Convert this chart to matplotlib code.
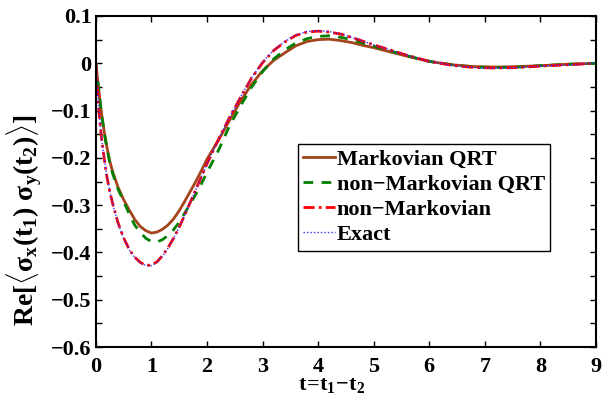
import matplotlib
matplotlib.use("Agg")
import matplotlib.pyplot as plt
from matplotlib.ticker import MultipleLocator

t = [0, 0.05, 0.1, 0.15, 0.2, 0.25, 0.3, 0.4, 0.5, 0.6, 0.7, 0.8, 0.9, 1.0,
     1.1, 1.2, 1.3, 1.4, 1.5, 1.6, 1.7, 1.8, 1.9, 2.0, 2.2, 2.4, 2.6, 2.8, 3.0,
     3.2, 3.4, 3.6, 3.8, 4.0, 4.2, 4.4, 4.6, 4.8, 5.0, 5.3, 5.6, 6.0, 6.4, 6.8,
     7.2, 7.6, 8.0, 8.5, 9.0]

markov_qrt = [0, -0.052, -0.103, -0.143, -0.177, -0.206, -0.228, -0.262, -0.288, -0.310,
              -0.330, -0.345, -0.354, -0.359, -0.357, -0.351, -0.342, -0.329, -0.312,
              -0.292, -0.271, -0.250, -0.227, -0.203, -0.164, -0.122, -0.081, -0.045,
              -0.016, 0.006, 0.022, 0.037, 0.046, 0.050, 0.051, 0.048, 0.044, 0.038,
              0.033, 0.024, 0.015, 0.004, -0.003, -0.007, -0.008, -0.007, -0.005,
              -0.002, 0.0]

nonmarkov_qrt = [0, -0.052, -0.104, -0.145, -0.180, -0.209, -0.232, -0.266, -0.292, -0.318,
                 -0.342, -0.358, -0.370, -0.377, -0.378, -0.373, -0.364, -0.352, -0.336,
                 -0.317, -0.297, -0.277, -0.255, -0.231, -0.186, -0.134, -0.091, -0.051,
                 -0.018, 0.009, 0.028, 0.043, 0.052, 0.057, 0.058, 0.055, 0.050, 0.043,
                 0.036, 0.026, 0.016, 0.004, -0.003, -0.008, -0.009, -0.008, -0.005,
                 -0.002, 0.0]

nonmarkov = [0, -0.092, -0.155, -0.200, -0.240, -0.270, -0.295, -0.337, -0.369, -0.393,
             -0.410, -0.421, -0.427, -0.427, -0.420, -0.407, -0.390, -0.370, -0.347,
             -0.321, -0.294, -0.267, -0.240, -0.213, -0.163, -0.116, -0.073, -0.032,
             0.001, 0.027, 0.045, 0.059, 0.066, 0.068, 0.066, 0.062, 0.055, 0.047,
             0.039, 0.028, 0.017, 0.004, -0.004, -0.009, -0.010, -0.009, -0.006,
             -0.003, 0.0]

exact = [0, -0.090, -0.154, -0.199, -0.239, -0.270, -0.295, -0.338, -0.370, -0.394,
         -0.411, -0.422, -0.428, -0.428, -0.421, -0.408, -0.391, -0.370, -0.347,
         -0.321, -0.294, -0.267, -0.240, -0.213, -0.163, -0.115, -0.072, -0.031,
         0.002, 0.028, 0.046, 0.060, 0.067, 0.069, 0.067, 0.062, 0.055, 0.047,
         0.039, 0.028, 0.017, 0.004, -0.004, -0.009, -0.010, -0.009, -0.006,
         -0.003, 0.0]

xticks = [0, 1, 2, 3, 4, 5, 6, 7, 8, 9]
yticks = [-0.6, -0.5, -0.4, -0.3, -0.2, -0.1, 0, 0.1]
ytick_labels = ["\u22120.6", "\u22120.5", "\u22120.4", "\u22120.3", "\u22120.2", "\u22120.1", "0", "0.1"]

plt.rcParams['font.family'] = ['Liberation Serif', 'DejaVu Serif']
plt.rcParams['font.weight'] = 'bold'
plt.rcParams['mathtext.fontset'] = 'custom'
plt.rcParams['mathtext.rm'] = 'Liberation Serif:bold'
plt.rcParams['mathtext.it'] = 'Liberation Serif:bold'
plt.rcParams['mathtext.bf'] = 'Liberation Serif:bold'

fig = plt.figure(figsize=(6.1, 4.07), dpi=100)
ax = fig.add_axes([0.157, 0.1474, 0.820, 0.8133])

ax.plot(t, markov_qrt, color='#A4441C', lw=2.0, ls='-', label='Markovian QRT')
ax.plot(t, nonmarkov_qrt, color='#008000', lw=2.0, ls=(0, (3.5, 3)), label='non\u2212Markovian QRT')
ax.plot(t, nonmarkov, color='#FF0000', lw=2.0, ls=(0, (4, 1.5, 1, 1.5)), label='non\u2212Markovian')
ax.plot(t, exact, color='#3030FF', lw=1.0, ls=(0, (1, 1.5)), label='Exact')

ax.set_xlim(0, 9)
ax.set_ylim(-0.6, 0.1)
ax.set_xticks(xticks)
ax.set_xticklabels([str(v) for v in xticks])
ax.set_yticks(yticks)
ax.set_yticklabels(ytick_labels)
ax.yaxis.set_minor_locator(MultipleLocator(0.05))
ax.tick_params(which='both', direction='in', top=True, right=True, labelsize=16, width=1.0)
ax.tick_params(which='both', length=4)
ax.tick_params(axis='x', pad=7)
ax.tick_params(axis='y', pad=3)
for s in ax.spines.values():
    s.set_linewidth(1.5)

ax.set_xlabel(r'$t\!=\!t_1\!-\!t_2$', fontsize=16, va='top')
ax.xaxis.set_label_coords(0.472, -0.088)
ax.set_ylabel(r'$Re[\langle\sigma_x(t_1)\ \sigma_y(t_2)\rangle]$', fontsize=20)
ax.yaxis.set_label_coords(-0.104, 0.384)

leg = ax.legend(loc='upper left', bbox_to_anchor=(0.404, 0.613), fontsize=16,
                frameon=True, fancybox=False, edgecolor='black', framealpha=1,
                handlelength=1.4, handletextpad=0.1, borderpad=0.25, labelspacing=0.2,
                borderaxespad=0)
leg.get_frame().set_linewidth(1.0)
for txt in leg.get_texts():
    txt.set_fontweight('bold')

fig.savefig('out.png', dpi=100)
